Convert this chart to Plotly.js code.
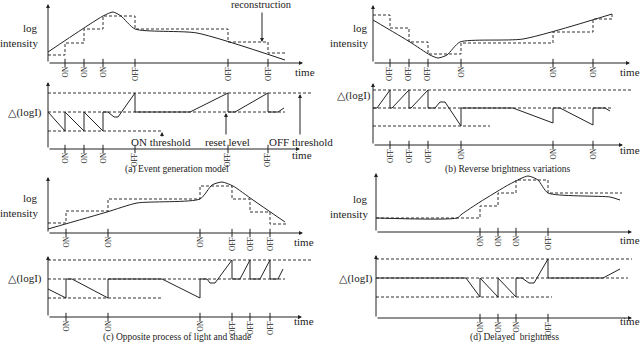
<!DOCTYPE html>
<html>
<head>
<meta charset="utf-8">
<script src="https://cdn.plot.ly/plotly-3.0.1.min.js"></script>
<style>
  html, body { margin: 0; padding: 0; background: #fff; }
  #chart { width: 640px; height: 342px; }
</style>
</head>
<body>
<div id="chart"></div>
<script>
// ---- (a) Event generation model ----
const aEvents = [17, 36, 55, 87, 180, 220];
const aEventLabels = ["ON", "ON", "ON", "OFF", "OFF", "OFF"];
const aCurveT = [0, 55, 65, 73, 87, 149, 237];
const aCurveV = [11, 47, 51, 47, 34, 30, 3];
const aReconT = [0, 17, 36, 55, 87, 180, 220, 238];
const aReconV = [8, 20, 34, 47, 34, 21, 10, 10];
const aThresholds = [56, 37, 18]; // OFF threshold, reset level, ON threshold
const aThresholdEnds = [264, 237, 114];
const aDeltaT = [0, 17, 17, 36, 36, 55, 55, 60, 66, 70, 87, 87, 142, 180, 180, 187, 220, 220, 230, 236];
const aDeltaV = [37, 18, 37, 18, 37, 18, 37, 37, 32, 32, 56, 37, 37, 56, 37, 37, 56, 37, 37, 41];

// ---- (b) Reverse brightness variations ----
const bEvents = [17, 36, 55, 88, 180, 220];
const bEventLabels = ["OFF", "OFF", "OFF", "ON", "ON", "ON"];
const bCurveT = [0, 37, 57, 65, 74, 87, 150, 239];
const bCurveV = [43, 21, 8, 5, 8, 21, 24, 49];
const bReconT = [0, 17, 36, 55, 88, 180, 220, 239, 239];
const bReconV = [48, 35, 21, 9, 20, 31, 44, 44, 49];
const bThresholds = [55, 37, 19];
const bThresholdEnds = [259, 239, 117];
const bDeltaT = [0, 4, 17, 17, 19, 36, 36, 38, 55, 55, 62, 67, 72, 88, 88, 140, 180, 180, 187, 220, 220, 232, 237];
const bDeltaV = [37, 37, 55, 37, 37, 55, 37, 37, 55, 37, 37, 43, 43, 19, 37, 37, 22, 37, 37, 20, 37, 37, 34];

// ---- (c) Opposite process of light and shade ----
const cEvents = [18, 60, 152, 184, 202, 222];
const cEventLabels = ["ON", "ON", "ON", "OFF", "OFF", "OFF"];
const cCurveT = [0, 59, 89, 152, 164, 174, 185, 205, 237];
const cCurveV = [4, 21, 30, 34, 48, 51, 47, 33, 11];
const cReconT = [0, 18, 60, 152, 184, 202, 222, 239];
const cReconV = [10, 22, 34, 47, 34, 21, 9, 9];
const cThresholds = [57, 38, 19];
const cThresholdEnds = [264, 237, 115];
const cDeltaT = [0, 18, 18, 24, 60, 60, 114, 152, 152, 159, 162, 167, 184, 184, 192, 202, 202, 212, 222, 222, 230, 235];
const cDeltaV = [28, 19, 38, 38, 19, 38, 38, 19, 38, 38, 34, 34, 57, 38, 38, 57, 38, 38, 57, 38, 38, 48];

// ---- (d) Delayed brightness ----
const dEvents = [104, 122, 140, 172];
const dEventLabels = ["ON", "ON", "ON", "OFF"];
const dCurveT = [0, 81, 86, 104, 134, 152, 162, 172, 234, 244];
const dCurveV = [14, 14, 18, 30, 48, 56, 52, 39, 35, 32];
const dReconT = [0, 104, 122, 140, 172, 246];
const dReconV = [14, 26, 39, 52, 39, 39];
const dThresholds = [59, 40, 21];
const dThresholdEnds = [256, 252, 176];
const dDeltaT = [0, 90, 104, 104, 122, 122, 140, 140, 146, 153, 158, 172, 172, 227, 244];
const dDeltaV = [40, 40, 21, 40, 21, 40, 21, 40, 40, 35, 35, 59, 40, 40, 49];

const captions = [
  "(a) Event generation model",
  "(b) Reverse brightness variations",
  "(c) Opposite process of light and shade",
  "(d) Delayed  brightness",
];

const FONT = "'Liberation Serif', 'DejaVu Serif', serif";
const INK = "#222";
const PW = 640, PH = 342;
const px = (x) => x / PW;
const py = (y) => 1 - y / PH;

// panel boxes in page pixels: origin (ox, oy), height h, range width w, arrow length len
const geo = [
  { ox: 48, oy: 63, h: 59, w: 264, len: 255 },
  { ox: 48, oy: 149, h: 67, w: 264, len: 252 },
  { ox: 373, oy: 63, h: 58, w: 262, len: 257 },
  { ox: 373, oy: 145, h: 62, w: 262, len: 250 },
  { ox: 48, oy: 233, h: 56, w: 264, len: 255 },
  { ox: 48, oy: 317, h: 61, w: 264, len: 254 },
  { ox: 376, oy: 232, h: 59, w: 262, len: 256 },
  { ox: 376, oy: 318, h: 63, w: 262, len: 256 },
];

const panels = [
  { events: aEvents, labels: aEventLabels, curve: [aCurveT, aCurveV], recon: [aReconT, aReconV],
    thr: aThresholds, thrEnds: aThresholdEnds, delta: [aDeltaT, aDeltaV] },
  { events: bEvents, labels: bEventLabels, curve: [bCurveT, bCurveV], recon: [bReconT, bReconV],
    thr: bThresholds, thrEnds: bThresholdEnds, delta: [bDeltaT, bDeltaV] },
  { events: cEvents, labels: cEventLabels, curve: [cCurveT, cCurveV], recon: [cReconT, cReconV],
    thr: cThresholds, thrEnds: cThresholdEnds, delta: [cDeltaT, cDeltaV] },
  { events: dEvents, labels: dEventLabels, curve: [dCurveT, dCurveV], recon: [dReconT, dReconV],
    thr: dThresholds, thrEnds: dThresholdEnds, delta: [dDeltaT, dDeltaV] },
];

const layout = {
  width: PW,
  height: PH,
  margin: { l: 0, r: 0, t: 0, b: 0 },
  paper_bgcolor: "#fff",
  plot_bgcolor: "rgba(0,0,0,0)",
  showlegend: false,
  font: { family: FONT, color: INK },
  annotations: [],
};
const traces = [];
const ann = layout.annotations;

const dashLine = { color: "#333", width: 1, dash: "3px,2px" };
const solidLine = { color: INK, width: 1 };

function setupAxes(n, g) {
  const xk = n === 1 ? "xaxis" : "xaxis" + n;
  const yk = n === 1 ? "yaxis" : "yaxis" + n;
  layout[xk] = { domain: [px(g.ox), px(g.ox + g.w)], range: [0, g.w], visible: false, fixedrange: true,
    anchor: n === 1 ? "y" : "y" + n };
  layout[yk] = { domain: [py(g.oy + 20), py(g.oy - g.h)], range: [-20, g.h], visible: false, fixedrange: true,
    anchor: n === 1 ? "x" : "x" + n };
  const xr = n === 1 ? "x" : "x" + n;
  const yr = n === 1 ? "y" : "y" + n;
  // axis arrows
  const arrow = { xref: xr, yref: yr, axref: xr, ayref: yr, text: "", showarrow: true,
    arrowhead: 2, arrowsize: 0.8, arrowwidth: 1, arrowcolor: INK, ax: 0, ay: 0 };
  ann.push(Object.assign({}, arrow, { x: 0, y: g.h }));
  ann.push(Object.assign({}, arrow, { x: g.len, y: 0 }));
  return [xr, yr];
}

function addEvents(p, xr, yr) {
  traces.push({
    type: "scatter", mode: "markers", x: p.events, y: p.events.map(() => 0),
    xaxis: xr, yaxis: yr, cliponaxis: false, hoverinfo: "skip",
    marker: { symbol: "line-ns-open", size: 6, color: INK, line: { width: 1, color: INK } },
  });
  p.events.forEach((t, i) => {
    ann.push({ xref: xr, yref: yr, x: t, y: -2, text: p.labels[i], showarrow: false,
      textangle: -90, xanchor: "center", yanchor: "top", font: { size: 7.5, color: INK } });
  });
}

panels.forEach((p, k) => {
  // top: log intensity + reconstruction
  let [xr, yr] = setupAxes(2 * k + 1, geo[2 * k]);
  traces.push({ type: "scatter", mode: "lines", x: p.recon[0], y: p.recon[1], xaxis: xr, yaxis: yr,
    line: Object.assign({ shape: "hv" }, dashLine), hoverinfo: "skip" });
  traces.push({ type: "scatter", mode: "lines", x: p.curve[0], y: p.curve[1], xaxis: xr, yaxis: yr,
    line: Object.assign({ shape: "spline", smoothing: 0.6 }, solidLine), hoverinfo: "skip" });
  addEvents(p, xr, yr);

  // bottom: delta log I with thresholds
  [xr, yr] = setupAxes(2 * k + 2, geo[2 * k + 1]);
  p.thr.forEach((lev, i) => {
    traces.push({ type: "scatter", mode: "lines", x: [0, p.thrEnds[i]], y: [lev, lev], xaxis: xr, yaxis: yr,
      line: dashLine, hoverinfo: "skip" });
  });
  traces.push({ type: "scatter", mode: "lines", x: p.delta[0], y: p.delta[1], xaxis: xr, yaxis: yr,
    line: solidLine, hoverinfo: "skip" });
  addEvents(p, xr, yr);
});

// free text in page pixels
function text(s, x, y, size, xanchor) {
  ann.push({ xref: "paper", yref: "paper", x: px(x), y: py(y), text: s, showarrow: false,
    xanchor: xanchor || "center", yanchor: "middle", font: { size: size, color: INK } });
}
function arrow(x, y1, y2) {
  // head at (x, y1), tail at (x, y2)
  ann.push({ xref: "paper", yref: "paper", x: px(x), y: py(y1), ax: 0, ay: y2 - y1, text: "",
    showarrow: true, arrowhead: 2, arrowsize: 0.8, arrowwidth: 1, arrowcolor: INK });
}

[[40, 28, 43], [370, 28, 43], [40, 198, 213], [370, 199, 214]].forEach(([x, y1, y2]) => {
  text("log", x, y1, 11, "right");
  text("intensity", x, y2, 11, "right");
});
[[44, 112], [373, 95], [44, 278], [375, 278]].forEach(([x, y]) => text("△(logI)", x, y, 11, "right"));
[[293, 72], [290, 155], [618, 72], [618, 150], [292, 242], [292, 321], [618, 240], [618, 321]]
  .forEach(([x, y]) => text("time", x, y, 11, "left"));
[[177, 170], [508, 169], [177, 337], [514, 337]].forEach(([x, y], i) => text(captions[i], x, y, 9.5));

text("reconstruction", 261, 5, 10.5);
arrow(262, 42, 11);
text("ON threshold", 161, 142, 11);
arrow(162, 132, 138);
text("reset level", 227, 142, 11);
arrow(226, 113, 136);
text("OFF threshold", 301, 142, 11);
arrow(300, 94, 136);

Plotly.newPlot("chart", traces, layout, { staticPlot: true, displayModeBar: false });
</script>
</body>
</html>
